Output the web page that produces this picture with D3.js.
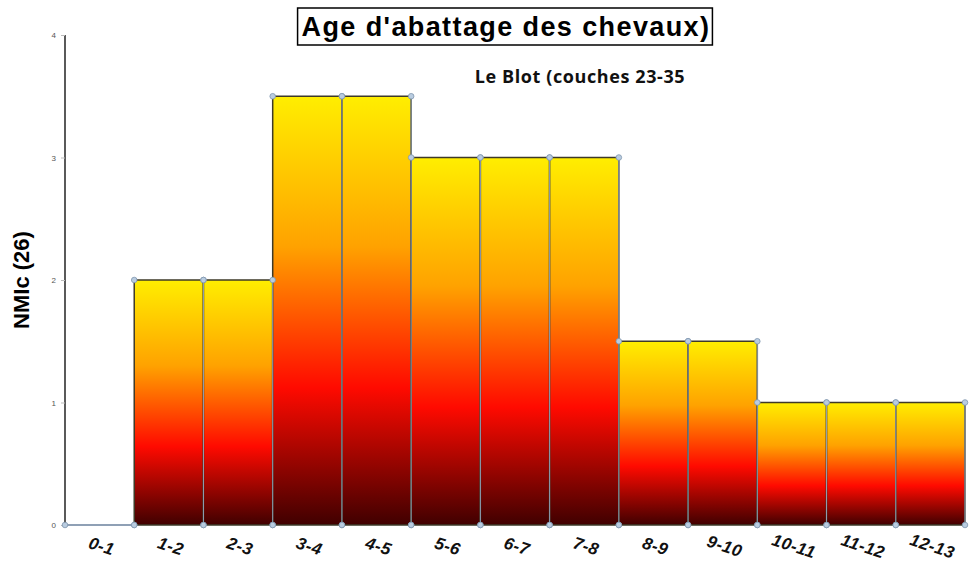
<!DOCTYPE html>
<html>
<head>
<meta charset="utf-8">
<script src="https://cdn.jsdelivr.net/npm/d3@7"></script>
<style>
  body { margin: 0; background: #fff; }
  svg { display: block; }
</style>
</head>
<body>
<div id="chart"></div>
<script>
const ageClasses = ['0-1', '1-2', '2-3', '3-4', '4-5', '5-6', '6-7', '7-8', '8-9', '9-10', '10-11', '11-12', '12-13']
const nmiValues = [0, 2, 2, 3.5, 3.5, 3, 3, 3, 1.5, 1.5, 1, 1, 1]
const yTicks = [0, 1, 2, 3, 4]

const width = 971, height = 566
const margin = { left: 65, right: 6, top: 35, bottom: 41 }

const svg = d3.select('#chart').append('svg')
  .attr('width', width)
  .attr('height', height)

// gradient yellow -> red -> dark red, per bar
const grad = svg.append('defs').append('linearGradient')
  .attr('id', 'fire')
  .attr('x1', 0).attr('y1', 0).attr('x2', 0).attr('y2', 1)
const stops = [[0, '#ffee00'], [0.35, '#ffa200'], [0.68, '#ff0a00'], [1, '#400000']]
stops.forEach(s => grad.append('stop').attr('offset', s[0]).attr('stop-color', s[1]))

const x = d3.scaleBand()
  .domain(ageClasses)
  .range([margin.left, width - margin.right])
  .padding(0)

const y = d3.scaleLinear()
  .domain([0, 4])
  .range([height - margin.bottom, margin.top])

// y axis
const yAxis = svg.append('g')
  .attr('transform', `translate(${margin.left},0)`)
  .call(d3.axisLeft(y).tickValues(yTicks).tickSize(4).tickPadding(5).tickFormat(d3.format('d')))
yAxis.select('.domain').attr('stroke', '#000').attr('stroke-width', 1.3)
  .attr('d', `M0,${y(4)}V${y(0)}`)
yAxis.selectAll('.tick line').attr('stroke', '#bbb')
yAxis.selectAll('.tick text').attr('fill', '#555').style('font', '8px Arial, sans-serif')

// bars
const data = ageClasses.map((c, i) => ({ cls: c, v: nmiValues[i] }))

svg.append('g').selectAll('rect')
  .data(data.filter(d => d.v > 0))
  .join('rect')
  .attr('x', d => x(d.cls))
  .attr('y', d => y(d.v))
  .attr('width', x.bandwidth())
  .attr('height', d => y(0) - y(d.v))
  .attr('fill', 'url(#fire)')
  .attr('stroke', '#3e3a28')
  .attr('stroke-width', 1.5)

// grey-blue dividers and baseline
svg.append('g').selectAll('line')
  .data(data.filter(d => d.v > 0))
  .join('line')
  .attr('x1', d => x(d.cls) + x.bandwidth())
  .attr('x2', d => x(d.cls) + x.bandwidth())
  .attr('y1', d => y(d.v))
  .attr('y2', y(0))
  .attr('stroke', '#8fa0b5')
  .attr('stroke-width', 1)

svg.append('line')
  .attr('x1', x(ageClasses[0]))
  .attr('x2', x(ageClasses[0]) + x.bandwidth())
  .attr('y1', y(0)).attr('y2', y(0))
  .attr('stroke', '#8fa0b5')
  .attr('stroke-width', 2)

// markers at bar corners and baseline
const pts = []
data.forEach(d => {
  const x0 = x(d.cls), x1 = x0 + x.bandwidth()
  pts.push([x0, y(0)], [x1, y(0)])
  if (d.v > 0) pts.push([x0, y(d.v)], [x1, y(d.v)])
})
svg.append('g').selectAll('circle')
  .data(pts)
  .join('circle')
  .attr('cx', d => d[0])
  .attr('cy', d => d[1])
  .attr('r', 2.8)
  .attr('fill', '#b9cce0')
  .attr('stroke', '#7f95ad')
  .attr('stroke-width', 0.8)

// x labels, slanted
svg.append('g').selectAll('text')
  .data(ageClasses)
  .join('text')
  .attr('transform', d => `translate(${x(d) + x.bandwidth() / 2 + 2},${y(0) + 21}) rotate(18)`)
  .attr('text-anchor', 'middle')
  .attr('dy', '0.35em')
  .style('font', 'italic bold 17px Arial, "Liberation Sans", sans-serif')
  .style('letter-spacing', '0.5px')
  .attr('fill', '#111')
  .text(d => d)

// y title
svg.append('text')
  .attr('transform', `translate(29,${(y(0) + y(4)) / 2}) rotate(-90)`)
  .attr('text-anchor', 'middle')
  .style('font', 'bold 22px Arial, "Liberation Sans", sans-serif')
  .attr('fill', '#000')
  .text('NMIc (26)')

// boxed title
const title = svg.append('text')
  .attr('x', 506).attr('y', 36)
  .attr('text-anchor', 'middle')
  .style('font', 'bold 27px Arial, "Liberation Sans", sans-serif')
  .style('letter-spacing', '1.4px')
  .attr('fill', '#000')
  .text("Age d'abattage des chevaux)")
const tb = title.node().getBBox()
svg.append('rect')
  .attr('x', tb.x - 4).attr('y', 8)
  .attr('width', tb.width + 6).attr('height', 37)
  .attr('fill', 'none')
  .attr('stroke', '#000')
  .attr('stroke-width', 1.5)

svg.append('text')
  .attr('x', 580).attr('y', 83)
  .attr('text-anchor', 'middle')
  .style('font', 'bold 18px "Open Sans", "Noto Sans", sans-serif')
  .style('letter-spacing', '0.6px')
  .attr('fill', '#111')
  .text('Le Blot (couches 23-35')
</script>
</body>
</html>
